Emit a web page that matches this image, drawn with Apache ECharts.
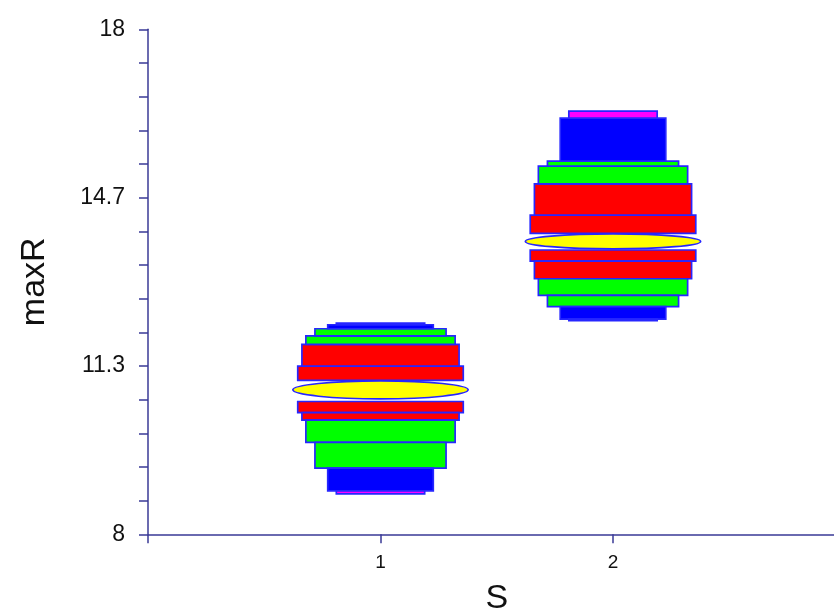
<!DOCTYPE html>
<html>
<head>
<meta charset="utf-8">
<script src="https://cdn.jsdelivr.net/npm/echarts@6/dist/echarts.min.js"></script>
<style>
  html, body { margin: 0; padding: 0; background: #fff; }
  #chart { width: 834px; height: 614px; }
</style>
</head>
<body>
<div id="chart"></div>
<script>
// Letter-value boxes of maxR for each S group
const categories = [1, 2];
const medians = [10.86, 13.80];
// letter-value edges above the median, innermost first
const upperEdges = [
  [11.05, 11.33, 11.76, 11.93, 12.07, 12.15, 12.18],
  [13.96, 14.32, 14.94, 15.29, 15.39, 16.24, 16.38]
];
// letter-value edges below the median, innermost first
const lowerEdges = [
  [10.63, 10.41, 10.26, 9.82, 9.31, 8.86, 8.80],
  [13.63, 13.41, 13.06, 12.73, 12.51, 12.26, 12.23]
];
const yTickValues = [8, 11.3, 14.7, 18];

// half widths (in x units) per depth level, and the median marker
const LEVEL_HALF_WIDTH = [0.356, 0.338, 0.321, 0.282, 0.227, 0.19];
const MEDIAN_HALF_WIDTH = 0.377;
const LEVEL_COLOR = ['#ff0000', '#ff0000', '#00ff00', '#00ff00', '#0000ff', '#ff00ff'];
const EDGE = '#2626ff';
const AXIS = '#3a3a96';
const FONT = 'Liberation Sans, Arial, Helvetica, sans-serif';

// one item per box: [x, from, to, level]
const boxData = [];
categories.forEach((c, i) => {
  [upperEdges[i], lowerEdges[i]].forEach(edges => {
    for (let k = 0; k < edges.length - 1; k++) {
      boxData.push([c, edges[k], edges[k + 1], k]);
    }
  });
});
const medianData = categories.map((c, i) => [c, medians[i], upperEdges[i][0], lowerEdges[i][0]]);

const chart = echarts.init(document.getElementById('chart'), null, { renderer: 'canvas' });
chart.setOption({
  animation: false,
  backgroundColor: '#ffffff',
  grid: {
    left: 148, top: 29.3, bottom: 79.7, right: -11.5,
    containLabel: false, outerBoundsMode: 'none'
  },
  xAxis: {
    type: 'value',
    min: 0, max: 3, interval: 1,
    name: 'S',
    nameLocation: 'middle',
    nameGap: 47,
    nameTextStyle: { fontFamily: FONT, fontSize: 34, color: '#111' },
    axisLine: { lineStyle: { color: AXIS, width: 1.5 } },
    axisTick: { show: true, length: 9, inside: false, lineStyle: { color: AXIS, width: 1.5 } },
    axisLabel: {
      fontFamily: FONT, fontSize: 19, color: '#111', margin: 19,
      formatter: v => (categories.indexOf(v) >= 0 ? String(v) : '')
    },
    splitLine: { show: false }
  },
  yAxis: {
    type: 'value',
    min: 8, max: 18, interval: 10 / 3,
    name: 'maxR',
    nameLocation: 'middle',
    nameGap: 96,
    nameRotate: 90,
    nameTextStyle: { fontFamily: FONT, fontSize: 34, color: '#111' },
    axisLine: { show: true, lineStyle: { color: AXIS, width: 1.5 } },
    axisTick: { show: true, length: 9, lineStyle: { color: AXIS, width: 1.5 } },
    minorTick: { show: true, splitNumber: 5, length: 9, lineStyle: { color: AXIS, width: 1.5 } },
    axisLabel: {
      fontFamily: FONT, fontSize: 23, color: '#111', margin: 23,
      formatter: v => {
        let best = yTickValues[0];
        yTickValues.forEach(t => { if (Math.abs(t - v) < Math.abs(best - v)) best = t; });
        return String(best);
      }
    },
    splitLine: { show: false }
  },
  series: [
    {
      type: 'custom',
      data: boxData,
      encode: { x: 0, y: [1, 2] },
      renderItem: (params, api) => {
        const x = api.value(0);
        const a = api.value(1), b = api.value(2);
        const lvl = api.value(3);
        const hw = LEVEL_HALF_WIDTH[lvl];
        const p0 = api.coord([x - hw, Math.max(a, b)]);
        const p1 = api.coord([x + hw, Math.min(a, b)]);
        return {
          type: 'rect',
          shape: { x: p0[0], y: p0[1], width: p1[0] - p0[0], height: p1[1] - p0[1] },
          style: { fill: LEVEL_COLOR[lvl], stroke: EDGE, lineWidth: 1.7 }
        };
      },
      z: 2
    },
    {
      type: 'custom',
      data: medianData,
      encode: { x: 0, y: 1 },
      renderItem: (params, api) => {
        const x = api.value(0);
        const c = api.coord([x, api.value(1)]);
        const up = api.coord([x, api.value(2)]);
        const lo = api.coord([x, api.value(3)]);
        const edge = api.coord([x + MEDIAN_HALF_WIDTH, api.value(1)]);
        const ry = Math.min(c[1] - up[1], lo[1] - c[1]) - 0.6;
        return {
          type: 'ellipse',
          shape: { cx: c[0], cy: c[1], rx: edge[0] - c[0], ry: ry },
          style: { fill: '#ffff00', stroke: EDGE, lineWidth: 1.7 }
        };
      },
      z: 3
    }
  ]
});
</script>
</body>
</html>
